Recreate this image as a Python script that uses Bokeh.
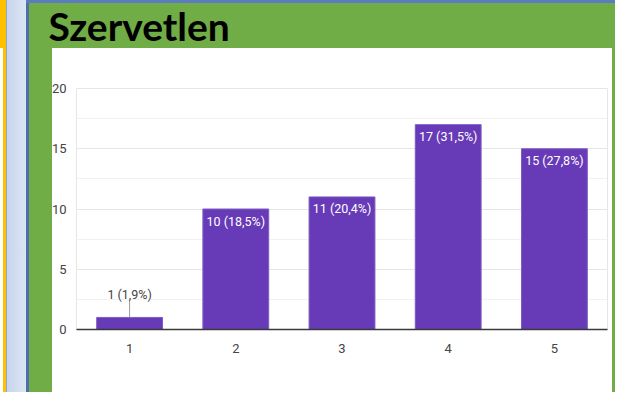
from bokeh.plotting import figure
from bokeh.models import ColumnDataSource, FixedTicker, SingleIntervalTicker, Range1d, Title
from bokeh.core.properties import value
from bokeh.embed import file_html
from bokeh.resources import INLINE

# ---- data ----
title_text = "Szervetlen"
categories = [1, 2, 3, 4, 5]
counts = [1, 10, 11, 17, 15]
percents = ["1,9%", "18,5%", "20,4%", "31,5%", "27,8%"]
y_ticks = [0, 5, 10, 15, 20]

# ---- styling ----
W, H = 615, 392
BAR = "#673AB7"
GREEN = "#70AD47"
FONT = "Roboto"
Y_MAX = 20
FRAME_L, FRAME_R, FRAME_T, FRAME_B = 76, 607, 88, 329
FRAME_H = FRAME_B - FRAME_T

page_bg = ", ".join([
    "linear-gradient(#ffffff, #ffffff) 52px 48px / 560px 347px no-repeat",
    "linear-gradient(#5B7DC0, #5B7DC0) 26px 0px / 100% 3px no-repeat",
    "linear-gradient(#ffffff, #ffffff) 0px 48px / 3px 347px no-repeat",
    "linear-gradient(to right, #FFC000 0px, #FFC000 6px, #93A7CC 6px, #93A7CC 7px, "
    "#C7D5EC 7px, #DCE5F3 26px, #4F6FA8 26px, #4F6FA8 29px, " + GREEN + " 29px)",
])

p = figure(width=W, height=H, output_backend="svg", toolbar_location=None,
           x_range=Range1d(0.5, 5.5), y_range=Range1d(0, Y_MAX),
           min_border_left=FRAME_L, min_border_right=W - FRAME_R,
           min_border_top=FRAME_T, min_border_bottom=H - FRAME_B)
p.styles = {"background": page_bg}
p.border_fill_alpha = 0
p.background_fill_color = "white"
p.outline_line_color = "#e6e6e6"

# spacer between the title and the chart frame (added first = nearest the frame)
p.add_layout(Title(text=" ", text_font="Lato", text_font_size="10px", standoff=26), "above")
# main title (added last = outermost)
p.add_layout(Title(text=title_text, text_font="Lato", text_font_style="bold", text_font_size="39px",
                   text_color="black", align="left", offset=48 - FRAME_L, standoff=0), "above")

labels = [f"{c} ({pc})" for c, pc in zip(counts, percents)]
inside = [c >= 3 for c in counts]
src_in = ColumnDataSource(dict(x=[x for x, i in zip(categories, inside) if i],
                               top=[c for c, i in zip(counts, inside) if i],
                               text=[t for t, i in zip(labels, inside) if i]))
src_out = ColumnDataSource(dict(x=[x for x, i in zip(categories, inside) if not i],
                                top=[c for c, i in zip(counts, inside) if not i],
                                top2=[c + 17 * Y_MAX / FRAME_H for c, i in zip(counts, inside) if not i],
                                text=[t for t, i in zip(labels, inside) if not i]))

p.vbar(x=categories, top=counts, width=0.62, fill_color=BAR, line_color="#7E5CC4", line_width=1)

p.text(x="x", y="top", text="text", source=src_in, text_color="white", text_align="center",
       text_baseline="middle", y_offset=12, text_font=value(FONT), text_font_size="12.5px")
p.segment(x0="x", y0="top", x1="x", y1="top2", source=src_out, line_color="#9a9a9a", line_width=1)
p.text(x="x", y="top", text="text", source=src_out, text_color="#444444", text_align="center",
       text_baseline="middle", y_offset=-23, text_font=value(FONT), text_font_size="12.5px")

# axes
p.xaxis.ticker = FixedTicker(ticks=categories)
p.xaxis.axis_line_color = "#3a3a3a"
p.xaxis.axis_line_width = 1.5
p.xaxis.major_tick_line_color = None
p.xaxis.minor_tick_line_color = None
p.xaxis.major_tick_out = 0
p.xaxis.minor_tick_out = 0
p.xaxis.major_label_standoff = 14
p.xaxis.major_label_text_font = FONT
p.xaxis.major_label_text_font_size = "13px"
p.xaxis.major_label_text_color = "#444444"

p.yaxis.ticker = SingleIntervalTicker(interval=5, num_minor_ticks=2)
p.yaxis.axis_line_color = None
p.yaxis.major_tick_line_color = None
p.yaxis.minor_tick_line_color = None
p.yaxis.major_tick_out = 0
p.yaxis.minor_tick_out = 0
p.yaxis.major_label_standoff = 10
p.yaxis.major_label_text_font = FONT
p.yaxis.major_label_text_font_size = "13px"
p.yaxis.major_label_text_color = "#444444"

p.xgrid.grid_line_color = None
p.ygrid.grid_line_color = "#e6e6e6"
p.ygrid.minor_grid_line_color = "#f2f2f2"

open("out.html", "w").write(file_html(p, INLINE))
